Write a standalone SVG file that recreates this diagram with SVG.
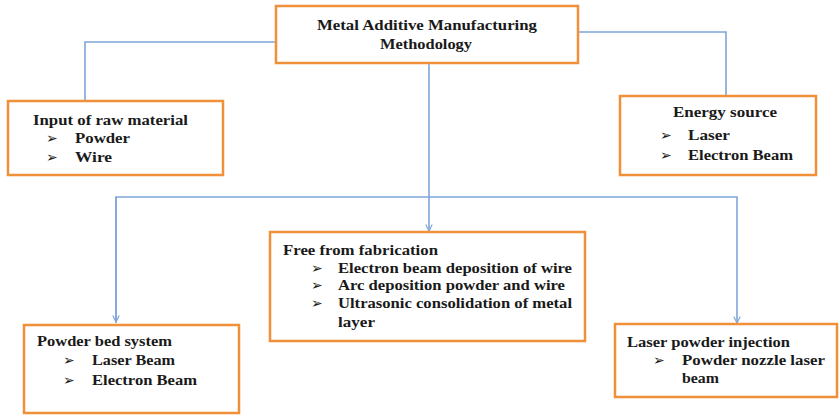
<svg xmlns="http://www.w3.org/2000/svg" width="839" height="415" viewBox="0 0 839 415">
<style>
.box{fill:#fff;stroke:#f0913a;stroke-width:2.5}
.ln{fill:none;stroke:#7fa6d9;stroke-width:1.6}
.t{font-family:"Liberation Serif","DejaVu Serif",serif;font-weight:bold;font-size:15.5px;fill:#1a1a1a}
.b{font-family:"DejaVu Sans",sans-serif;font-weight:bold;font-size:14px;fill:#1a1a1a}
</style>
<defs>
<marker id="ah" viewBox="0 0 10 10" refX="9" refY="5" markerWidth="8" markerHeight="8" orient="auto" markerUnits="userSpaceOnUse">
<path d="M1,1 L9,5 L1,9" fill="none" stroke="#7fa6d9" stroke-width="1.5"/>
</marker>
</defs>
<rect width="839" height="415" fill="#fff"/>
<g id="connectors">
<path class="ln" d="M276,42 H85 V100"/>
<path class="ln" d="M578,32 H726 V95"/>
<path class="ln" d="M429,63 V231" marker-end="url(#ah)"/>
<path class="ln" d="M116,323 V197 H737 V323" marker-end="url(#ah)"/>
<path class="ln" d="M116,197 V322" marker-end="url(#ah)"/>
</g>
<g id="top">
<rect class="box" x="276" y="6" width="302" height="57"/>
<text class="t" x="317" y="30" textLength="220" lengthAdjust="spacingAndGlyphs">Metal Additive Manufacturing</text>
<text class="t" x="380" y="49" textLength="92" lengthAdjust="spacingAndGlyphs">Methodology</text>
</g>
<g id="input">
<rect class="box" x="8" y="101" width="215" height="74"/>
<text class="t" x="33" y="125" textLength="155" lengthAdjust="spacingAndGlyphs">Input of raw material</text>
<text class="b" x="46" y="143">➢</text><text class="t" x="75" y="143" textLength="55" lengthAdjust="spacingAndGlyphs">Powder</text>
<text class="b" x="46" y="162">➢</text><text class="t" x="75" y="162" textLength="37" lengthAdjust="spacingAndGlyphs">Wire</text>
</g>
<g id="energy">
<rect class="box" x="620" y="96" width="196" height="79"/>
<text class="t" x="673" y="117" textLength="104" lengthAdjust="spacingAndGlyphs">Energy source</text>
<text class="b" x="660" y="140">➢</text><text class="t" x="688" y="140" textLength="42" lengthAdjust="spacingAndGlyphs">Laser</text>
<text class="b" x="660" y="160">➢</text><text class="t" x="688" y="160" textLength="105" lengthAdjust="spacingAndGlyphs">Electron Beam</text>
</g>
<g id="free">
<rect class="box" x="270" y="232" width="315" height="109"/>
<text class="t" x="283" y="255" textLength="155" lengthAdjust="spacingAndGlyphs">Free from fabrication</text>
<text class="b" x="311" y="273">➢</text><text class="t" x="338" y="273" textLength="234" lengthAdjust="spacingAndGlyphs">Electron beam deposition of wire</text>
<text class="b" x="311" y="290">➢</text><text class="t" x="338" y="290" textLength="227" lengthAdjust="spacingAndGlyphs">Arc deposition powder and  wire</text>
<text class="b" x="311" y="308">➢</text><text class="t" x="338" y="308" textLength="234" lengthAdjust="spacingAndGlyphs">Ultrasonic consolidation of metal</text>
<text class="t" x="338" y="327" textLength="37" lengthAdjust="spacingAndGlyphs">layer</text>
</g>
<g id="powderbed">
<rect class="box" x="24" y="325" width="215" height="88"/>
<text class="t" x="37" y="346" textLength="135" lengthAdjust="spacingAndGlyphs">Powder bed system</text>
<text class="b" x="63" y="365">➢</text><text class="t" x="92" y="365" textLength="83" lengthAdjust="spacingAndGlyphs">Laser Beam</text>
<text class="b" x="63" y="385">➢</text><text class="t" x="92" y="385" textLength="105" lengthAdjust="spacingAndGlyphs">Electron Beam</text>
</g>
<g id="laserpowder">
<rect class="box" x="615" y="324" width="222" height="73"/>
<text class="t" x="627" y="347" textLength="163" lengthAdjust="spacingAndGlyphs">Laser powder injection</text>
<text class="b" x="653" y="365">➢</text><text class="t" x="682" y="365" textLength="143" lengthAdjust="spacingAndGlyphs">Powder nozzle laser</text>
<text class="t" x="682" y="383" textLength="37" lengthAdjust="spacingAndGlyphs">beam</text>
</g>
</svg>
